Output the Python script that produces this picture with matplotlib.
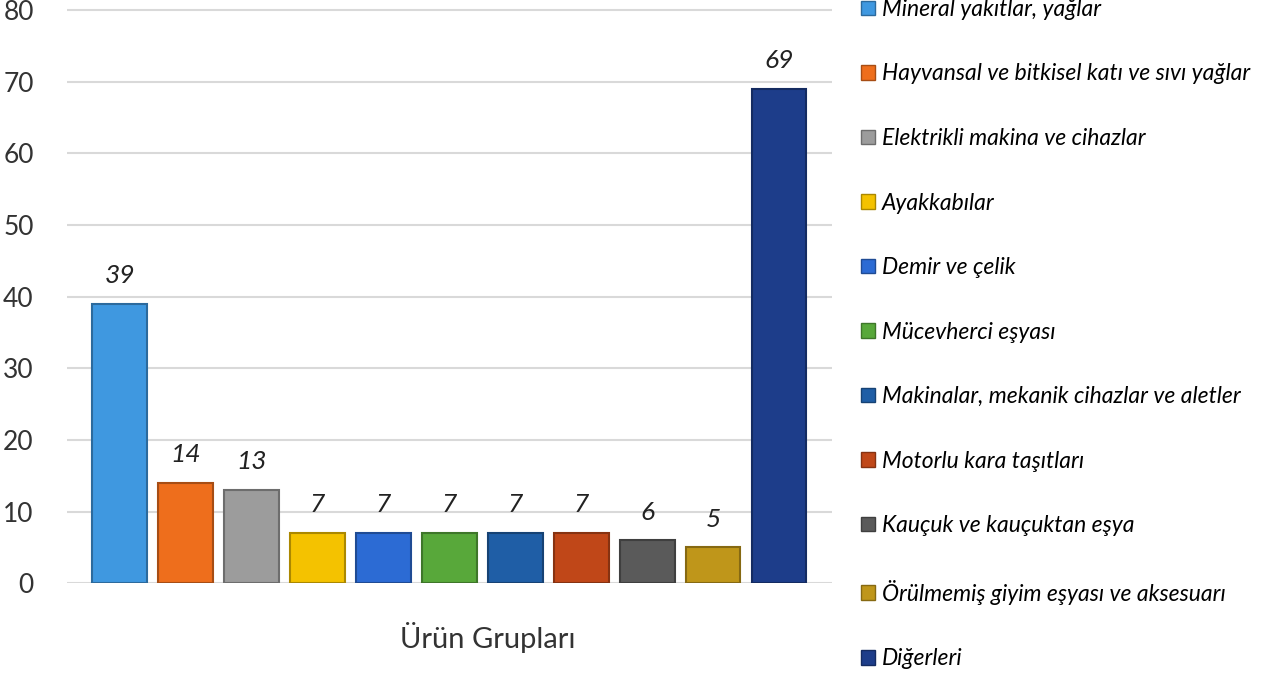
import matplotlib
matplotlib.use('Agg')
import matplotlib.pyplot as plt
from matplotlib.patches import Patch
import matplotlib.colors as mcolors

plt.rcParams['font.family'] = ['Lato', 'DejaVu Sans']

categories = ['Mineral yakıtlar, yağlar',
              'Hayvansal ve bitkisel katı ve sıvı yağlar',
              'Elektrikli makina ve cihazlar',
              'Ayakkabılar',
              'Demir ve çelik',
              'Mücevherci eşyası',
              'Makinalar, mekanik cihazlar ve aletler',
              'Motorlu kara taşıtları',
              'Kauçuk ve kauçuktan eşya',
              'Örülmemiş giyim eşyası ve aksesuarı',
              'Diğerleri']
values = [39, 14, 13, 7, 7, 7, 7, 7, 6, 5, 69]
colors = ['#3f98e0', '#ee6e1c', '#9c9c9c', '#f4c200', '#2c6bd4', '#58a83a',
          '#1f5ea6', '#c04718', '#5a5a5a', '#bf961a', '#1d3d8a']
yticks = [0, 10, 20, 30, 40, 50, 60, 70, 80]


def darker(c, f=0.7):
    r, g, b = mcolors.to_rgb(c)
    return (r * f, g * f, b * f)


fig = plt.figure(figsize=(12.66, 6.75), dpi=100)
ax = fig.add_axes([0.053, 0.136, 0.604, 0.864])

x = list(range(len(values)))
ax.bar(x, values, width=0.83, color=colors,
       edgecolor=[darker(c) for c in colors], linewidth=1.5, zorder=3)

for xi, v in zip(x, values):
    ax.annotate(str(v), (xi, v), xytext=(0, 12), textcoords='offset points',
                ha='center', va='bottom', fontsize=19, style='italic',
                color='#222222', zorder=4)

ax.set_xlim(-0.8, 10.8)
ax.set_ylim(0, 81.4)
ax.set_yticks(yticks)
ax.set_xticks([])
ax.tick_params(axis='y', length=0, labelsize=19, labelcolor='#333333', pad=24)
ax.grid(axis='y', color='#d9d9d9', linewidth=1.5, zorder=0)
for s in ax.spines.values():
    s.set_visible(False)

ax.set_xlabel('Ürün Grupları', fontsize=21, color='#333333')
ax.xaxis.set_label_coords(0.55, -0.066)

handles = [Patch(facecolor=c, edgecolor=darker(c)) for c in colors]
fig.legend(handles, categories, loc='center left', bbox_to_anchor=(0.664, 0.505),
           frameon=False, handlelength=0.6, handleheight=0.6,
           handletextpad=0.3, labelspacing=1.9, prop={'style': 'italic', 'size': 16.5})

fig.savefig('out.png', dpi=100)
